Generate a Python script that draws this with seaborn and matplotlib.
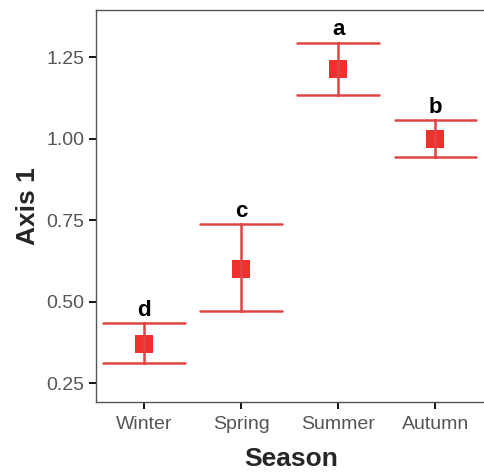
import numpy as np
import pandas as pd
import matplotlib
matplotlib.use('Agg')
import matplotlib.pyplot as plt
import seaborn as sns

seasons = ["Winter", "Spring", "Summer", "Autumn"]
means = [0.371, 0.600, 1.214, 1.000]
lower = [0.313, 0.472, 1.135, 0.944]
upper = [0.434, 0.739, 1.295, 1.057]
letters = ["d", "c", "a", "b"]


def main():
    sns.set_style("white")
    plt.rcParams['font.family'] = ['Liberation Sans', 'DejaVu Sans']

    # long table: lower / mean / upper per season, median = mean, min/max = bars
    rows = []
    for s, lo, m, up in zip(seasons, lower, means, upper):
        for v in (lo, m, up):
            rows.append({"Season": s, "Axis 1": v})
    df = pd.DataFrame(rows)

    fig = plt.figure(figsize=(4.84, 4.73), dpi=100)
    ax = fig.add_axes([0.198, 0.150, 0.806, 0.829])

    sns.pointplot(data=df, x="Season", y="Axis 1", order=seasons,
                  estimator=np.median,
                  errorbar=lambda x: (x.min(), x.max()),
                  markers="s", linestyle="none", capsize=0.84,
                  color="#e8383a",
                  err_kws={"linewidth": 1.8, "color": "#e04444"},
                  markersize=13, ax=ax)
    for line in ax.lines:
        line.set_markeredgewidth(0)
        line.set_markerfacecolor("#f0302c")

    for i, (up, t) in enumerate(zip(upper, letters)):
        ax.text(i, up + 0.022, t, ha="center", va="baseline",
                fontsize=16, fontweight="bold", color="black")

    ax.set_xlim(-0.495, 3.52)
    ax.set_ylim(0.193, 1.395)
    ax.set_yticks([0.25, 0.50, 0.75, 1.00, 1.25])
    ax.set_yticklabels(["0.25", "0.50", "0.75", "1.00", "1.25"])
    ax.tick_params(axis="both", length=5, width=1.3, color="black",
                   labelsize=14, labelcolor="#555555", direction="out",
                   left=True, bottom=True)
    ax.tick_params(axis="x", pad=5)
    ax.tick_params(axis="y", pad=3)
    for sp in ax.spines.values():
        sp.set_color("#555555")
        sp.set_linewidth(1.0)
    ax.set_xlabel("Season", fontsize=19, fontweight="bold", labelpad=10)
    ax.set_ylabel("Axis 1", fontsize=19, fontweight="bold", labelpad=5)

    plt.savefig("out.png", dpi=100)


if __name__ == "__main__":
    main()
